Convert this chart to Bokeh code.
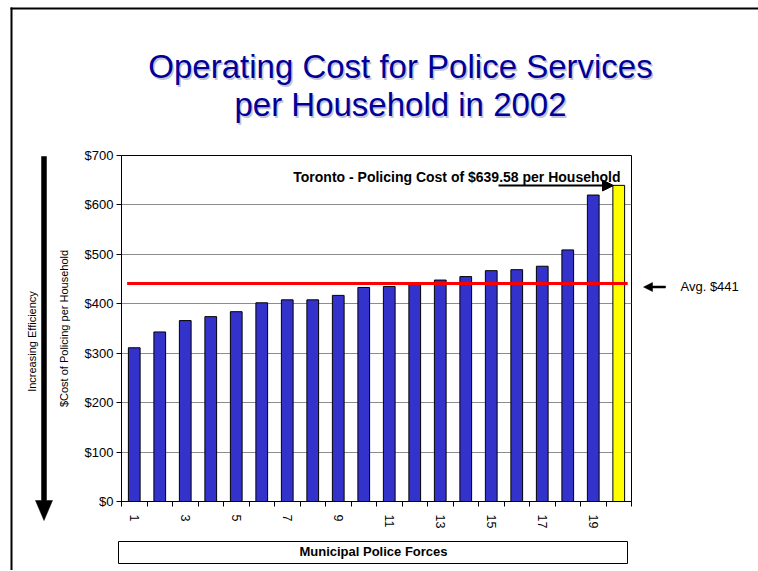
import math
from bokeh.plotting import figure
from bokeh.models import Range1d, FixedTicker, NumeralTickFormatter, Arrow, NormalHead
from bokeh.core.properties import value
from bokeh.embed import file_html
from bokeh.resources import INLINE

# ---- data ----
forces = list(range(1, 21))
costs = [311, 343, 366, 374, 384, 402, 408, 408, 417, 433, 435, 443, 448,
         455, 467, 469, 476, 509, 620, 639.58]
colors = ["#3333CC"] * 19 + ["#FFFF00"]
average = 441
y_ticks = [0, 100, 200, 300, 400, 500, 600, 700]
x_label_ticks = [1, 3, 5, 7, 9, 11, 13, 15, 17, 19]

W, H = 758, 570
# frame in page pixels
FL, FR, FT, FB = 121, 631, 155, 501

p = figure(width=W, height=H, output_backend="svg", toolbar_location=None,
           x_range=Range1d(0.5, 20.5), y_range=Range1d(0, 700),
           min_border_left=FL, min_border_right=W - FR,
           min_border_top=FT, min_border_bottom=H - FB)
p.background_fill_color = "white"
p.border_fill_color = "white"
p.outline_line_color = "black"
p.outline_line_width = 1

# pixel -> data helpers for annotation placement
def xd(px):
    return 0.5 + (px - FL) * 20.0 / (FR - FL)

def yd(py):
    return (FB - py) * 700.0 / (FB - FT)

p.vbar(x=forces, top=costs, width=0.46, fill_color=colors, line_color="black",
       line_width=1)
p.segment(x0=[0.72], y0=[average], x1=[20.35], y1=[average],
          line_color="#FF0000", line_width=3)

# axes
p.xgrid.visible = False
p.ygrid.grid_line_color = "#8c8c8c"
p.ygrid.ticker = FixedTicker(ticks=y_ticks)

p.yaxis.ticker = FixedTicker(ticks=y_ticks)
p.yaxis.formatter = NumeralTickFormatter(format="$0")
p.yaxis.major_label_text_font = "Liberation Sans"
p.yaxis.major_label_text_font_size = "13px"
p.yaxis.major_label_text_color = "black"
p.yaxis.major_tick_in = 0
p.yaxis.major_tick_out = 5
p.yaxis.minor_tick_line_color = None
p.yaxis.axis_line_color = "black"
p.yaxis.major_label_standoff = 3
p.yaxis.axis_label = "$Cost of Policing per Household"
p.yaxis.axis_label_text_font = "Liberation Sans"
p.yaxis.axis_label_text_font_size = "11px"
p.yaxis.axis_label_text_font_style = "normal"
p.yaxis.axis_label_text_color = "black"
p.yaxis.axis_label_standoff = 12

p.xaxis.ticker = FixedTicker(ticks=x_label_ticks,
                             minor_ticks=[i + 0.5 for i in range(0, 21)])
p.xaxis.major_tick_line_color = None
p.xaxis.minor_tick_in = 0
p.xaxis.minor_tick_out = 5
p.xaxis.minor_tick_line_color = "black"
p.xaxis.major_label_orientation = -math.pi / 2
p.xaxis.major_label_text_font = "Liberation Sans"
p.xaxis.major_label_text_font_size = "12.5px"
p.xaxis.major_label_text_color = "black"
p.xaxis.major_label_standoff = 7
p.xaxis.axis_line_color = "black"

FONT = value("Liberation Sans")

# title (two lines, with faint shadow)
for dx, dy, col in [(1.5, 1.5, "#c4c4d4"), (0, 0, "#000099")]:
    p.text(x=[xd(400 + dx), xd(400 + dx)], y=[yd(66 + dy), yd(104 + dy)],
           text=["Operating Cost for Police Services", "per Household in 2002"],
           text_align="center", text_baseline="alphabetic", text_font=FONT,
           text_font_size="33px", text_color=col, level="overlay")

# Toronto annotation (inside frame)
p.text(x=[xd(620)], y=[yd(176.5)], text=["Toronto - Policing Cost of $639.58 per Household"],
       text_align="right", text_baseline="alphabetic", text_font=FONT,
       text_font_size="14px", text_font_style="bold", text_color="black")
p.add_layout(Arrow(x_start=xd(498), y_start=yd(185), x_end=xd(613), y_end=yd(185),
                   line_color="black", line_width=2,
                   end=NormalHead(size=11, fill_color="black", line_color="black")))

# average annotation
p.text(x=[xd(680)], y=[yd(286)], text=["Avg. $441"], text_align="left",
       text_baseline="alphabetic", text_font=FONT, text_font_size="13px",
       text_color="black", level="overlay")
p.patch(x=[xd(643), xd(652), xd(652), xd(665), xd(665), xd(652), xd(652)],
        y=[yd(286.5), yd(282), yd(285.5), yd(285.5), yd(287.5), yd(287.5), yd(291)],
        fill_color="black", line_color="black", line_width=0.5, level="overlay")

# left efficiency arrow and text
p.patch(x=[xd(41), xd(46), xd(46), xd(52), xd(43.5), xd(35), xd(41)],
        y=[yd(156), yd(156), yd(500), yd(500), yd(520), yd(500), yd(500)],
        fill_color="black", line_color="black", line_width=0.5, level="overlay")
p.text(x=[xd(31)], y=[yd(341)], text=["Increasing Efficiency"], angle=math.pi / 2,
       text_align="center", text_baseline="alphabetic", text_font=FONT,
       text_font_size="11px", text_color="black", level="overlay")

# x-axis title box
p.quad(left=[xd(118)], right=[xd(627)], top=[yd(541)], bottom=[yd(563)],
       fill_color="white", line_color="black", line_width=1, level="overlay")
p.text(x=[xd(373)], y=[yd(551)], text=["Municipal Police Forces"], text_align="center",
       text_baseline="alphabetic", text_font=FONT, text_font_size="13px",
       text_font_style="bold", text_color="black", level="overlay")

# page border (top and left)
p.segment(x0=[xd(10), xd(11)], y0=[yd(8), yd(7)], x1=[xd(W + 10), xd(11)], y1=[yd(8), yd(H + 10)],
          line_color="black", line_width=2, line_cap="butt", level="overlay")

open("out.html", "w").write(file_html(p, INLINE))
